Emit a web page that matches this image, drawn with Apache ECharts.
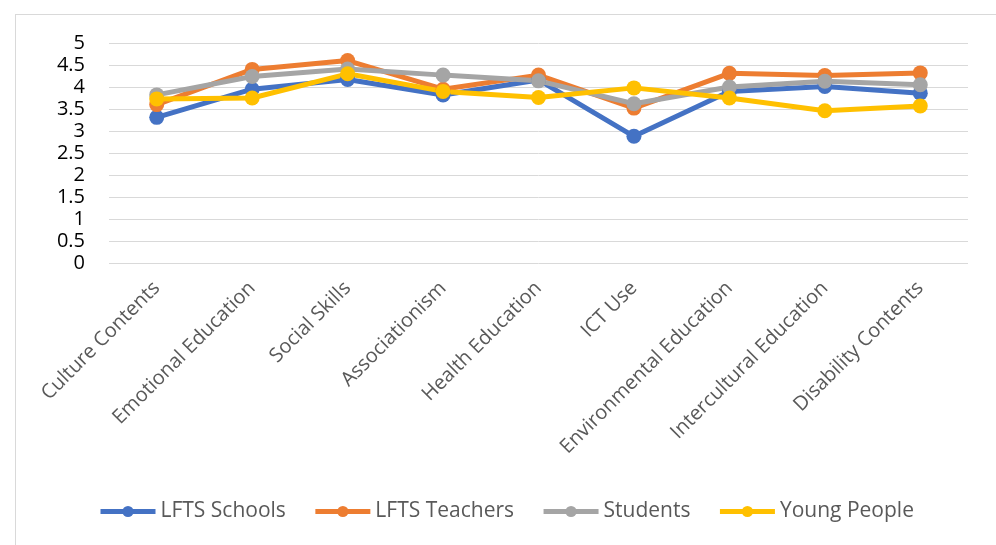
<!DOCTYPE html>
<html>
<head>
<meta charset="utf-8">
<script src="https://cdn.jsdelivr.net/npm/echarts@6/dist/echarts.min.js"></script>
<style>
  html, body { margin: 0; padding: 0; background: #fff; overflow: hidden; }
  #frame {
    position: absolute; left: 15px; top: 14px;
    width: 1000px; height: 560px;
    border: 1px solid #d9d9d9;
  }
  #chart { position: absolute; left: 0; top: 0; width: 996px; height: 545px; }
</style>
</head>
<body>
<div id="frame"></div>
<div id="chart"></div>
<script>
const categories = [
  'Culture Contents', 'Emotional Education', 'Social Skills', 'Associationism',
  'Health Education', 'ICT Use', 'Environmental Education', 'Intercultural Education',
  'Disability Contents'
]
const lftsSchools = [3.31, 3.95, 4.17, 3.82, 4.16, 2.88, 3.90, 4.01, 3.86]
const lftsTeachers = [3.60, 4.40, 4.60, 3.95, 4.27, 3.52, 4.31, 4.26, 4.32]
const students = [3.82, 4.24, 4.41, 4.27, 4.14, 3.62, 4.00, 4.13, 4.05]
const youngPeople = [3.73, 3.75, 4.30, 3.90, 3.76, 3.98, 3.75, 3.46, 3.57]

const seriesNames = ['LFTS Schools', 'LFTS Teachers', 'Students', 'Young People']
const colors = ['#4472C4', '#ED7D31', '#A5A5A5', '#FFC000']
const font = '"Open Sans", "Liberation Sans", sans-serif'

const makeSeries = (name, data, color) => ({
  name,
  type: 'line',
  data,
  symbol: 'circle',
  symbolSize: 15,
  lineStyle: { width: 5, color },
  itemStyle: { color },
  emphasis: { disabled: true }
})

const chart = echarts.init(document.getElementById('chart'))

chart.setOption({
  animation: false,
  backgroundColor: 'transparent',
  color: colors,
  grid: { left: 109, right: 28, top: 43, bottom: 282, containLabel: false },
  legend: {
    bottom: 18,
    left: 93,
    itemWidth: 55,
    itemHeight: 14,
    itemGap: 27,
    lineStyle: { width: 5 },
    textStyle: { fontFamily: font, fontSize: 21, color: '#595959' },
    data: seriesNames
  },
  xAxis: {
    type: 'category',
    data: categories,
    boundaryGap: true,
    axisLine: { show: false },
    axisTick: { show: false },
    axisLabel: {
      rotate: 45,
      margin: 22,
      interval: 0,
      fontFamily: font,
      fontSize: 20,
      color: '#595959'
    }
  },
  yAxis: {
    type: 'value',
    min: 0,
    max: 5,
    interval: 0.5,
    axisLine: { show: false },
    axisTick: { show: false },
    axisLabel: {
      margin: 24,
      fontFamily: font,
      fontSize: 20,
      color: '#000'
    },
    splitLine: { lineStyle: { color: '#d9d9d9', width: 1 } }
  },
  series: [
    makeSeries(seriesNames[0], lftsSchools, colors[0]),
    makeSeries(seriesNames[1], lftsTeachers, colors[1]),
    makeSeries(seriesNames[2], students, colors[2]),
    makeSeries(seriesNames[3], youngPeople, colors[3])
  ]
})
</script>
</body>
</html>
